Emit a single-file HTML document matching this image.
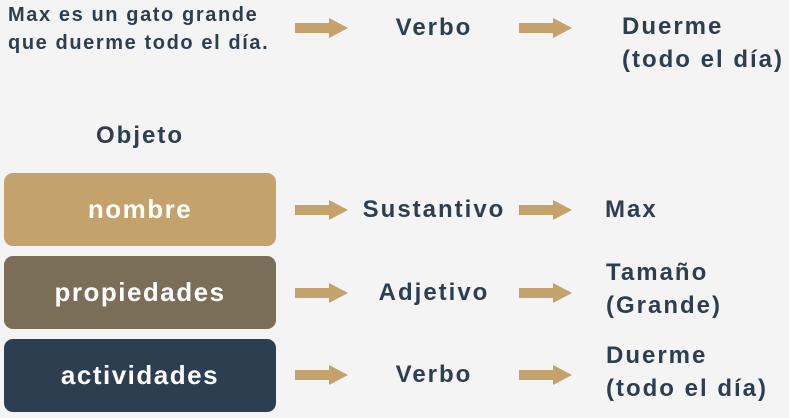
<!DOCTYPE html>
<html><head><meta charset="utf-8"><style>
body{margin:0;width:789px;height:418px;background:#f4f4f4;overflow:hidden;position:relative;font-family:"Liberation Sans",sans-serif;font-weight:bold;color:#2d3e50}
.t{position:absolute;white-space:nowrap;font-size:24px;letter-spacing:2px;line-height:32px}
.box{position:absolute;left:4px;width:272px;height:73px;border-radius:9px;color:#fff;font-size:26px;letter-spacing:1.5px;text-align:center;line-height:73px}
svg{position:absolute}
</style></head><body>
<div class="t" style="left:8px;top:1px;font-size:20px;letter-spacing:1.6px;line-height:28px">Max es un gato grande<br>que duerme todo el día.</div>
<div class="t" style="left:434px;top:12px;transform:translateX(-50%)">Verbo</div>
<div class="t" style="left:622px;top:10px;line-height:33px">Duerme<br>(todo el día)</div>
<div class="t" style="left:140px;top:120px;transform:translateX(-50%)">Objeto</div>
<div class="box" style="top:173px;background:#c4a26b">nombre</div>
<div class="box" style="top:256px;background:#7a6e58">propiedades</div>
<div class="box" style="top:339px;background:#2c3e50">actividades</div>
<div class="t" style="left:434px;top:194px;transform:translateX(-50%)">Sustantivo</div>
<div class="t" style="left:605px;top:194px">Max</div>
<div class="t" style="left:434px;top:277px;transform:translateX(-50%)">Adjetivo</div>
<div class="t" style="left:606px;top:256px;line-height:33px">Tamaño<br>(Grande)</div>
<div class="t" style="left:434px;top:359px;transform:translateX(-50%)">Verbo</div>
<div class="t" style="left:606px;top:339px;line-height:33px">Duerme<br>(todo el día)</div>
<svg width="789" height="418" style="left:0;top:0">
<defs><g id="a"><polygon points="0,-5 34,-5 34,-10 53,0 34,10 34,5 0,5" fill="#c4a26b"/></g></defs>
<use href="#a" x="295" y="28"/><use href="#a" x="519" y="28"/>
<use href="#a" x="295" y="210"/><use href="#a" x="519" y="210"/>
<use href="#a" x="295" y="293"/><use href="#a" x="519" y="293"/>
<use href="#a" x="295" y="375"/><use href="#a" x="519" y="375"/>
</svg>
</body></html>
